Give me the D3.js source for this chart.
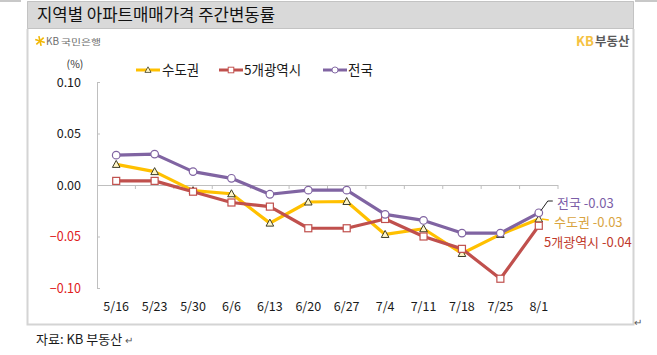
<!DOCTYPE html>
<html><head><meta charset="utf-8">
<script src="https://cdn.jsdelivr.net/npm/d3@7"></script>
<style>
html,body{margin:0;padding:0;background:#fff;}
text{font-family:"Noto Sans CJK KR","Noto Sans",sans-serif;}
</style></head>
<body>
<svg id="c" width="657" height="355"></svg>
<script>
const categories = ["5/16","5/23","5/30","6/6","6/13","6/20","6/27","7/4","7/11","7/18","7/25","8/1"];
const seoulMetro = [0.020,0.013,-0.0055,-0.0085,-0.037,-0.0165,-0.016,-0.048,-0.0425,-0.0665,-0.048,-0.033];
const fiveCities = [0.004,0.004,-0.0065,-0.017,-0.021,-0.042,-0.042,-0.033,-0.050,-0.062,-0.091,-0.0396];
const nationwide = [0.029,0.030,0.013,0.0065,-0.009,-0.005,-0.005,-0.0285,-0.0344,-0.0467,-0.0467,-0.027];
const yTicks = [0.10,0.05,0.00,-0.05,-0.10];
const seriesNames = ["수도권","5개광역시","전국"];
const endLabels = ["전국 -0.03","수도권 -0.03","5개광역시 -0.04"];

const svg = d3.select("#c");

// page lines
svg.append("line").attr("x1",0).attr("x2",21).attr("y1",1).attr("y2",1).attr("stroke","#c8c8c8").attr("stroke-width",2);
svg.append("line").attr("x1",635).attr("x2",657).attr("y1",1).attr("y2",1).attr("stroke","#c8c8c8").attr("stroke-width",2);

// title bar
svg.append("rect").attr("x",27.5).attr("y",1.5).attr("width",606).attr("height",27)
  .attr("fill","#d9d9d9").attr("stroke","#9a9a9a").attr("stroke-dasharray","1,1");
svg.append("text").attr("x",37).attr("y",21).attr("font-size",16.5).attr("fill","#111")
  .attr("textLength",238).attr("lengthAdjust","spacingAndGlyphs")
  .text("지역별 아파트매매가격 주간변동률");

// chart frame
svg.append("path").attr("d","M27.5,29 V324.5 H633.5 V29").attr("fill","none").attr("stroke","#d4d4d4").attr("stroke-width",2);

// KB logos
const star = svg.append("g").attr("transform","translate(40,41)");
for(let i=0;i<6;i++){
  star.append("line").attr("x1",0).attr("y1",0).attr("x2",5*Math.cos(i*Math.PI/3+0.3)).attr("y2",5*Math.sin(i*Math.PI/3+0.3))
    .attr("stroke","#f2b705").attr("stroke-width",1.6);
}
svg.append("text").attr("x",46).attr("y",45).attr("font-size",10).attr("fill","#6d6d6d").text("KB");
svg.append("text").attr("x",61).attr("y",45).attr("font-size",8.5).attr("fill","#6d6d6d").attr("textLength",40).attr("lengthAdjust","spacingAndGlyphs").text("국민은행");
svg.append("text").attr("x",576).attr("y",46).attr("font-size",13).attr("font-weight","bold").attr("fill","#f5c242").text("KB");
svg.append("text").attr("x",595).attr("y",46).attr("font-size",12.5).attr("font-weight","bold").attr("fill","#5a5a5a").text("부동산");

// scales
const x = d3.scaleBand().domain(categories).range([97,558]).padding(0);
const y = d3.scaleLinear().domain([-0.10,0.10]).range([288,82]);
const cx = d => x(d)+x.bandwidth()/2;

// y axis
const yAxis = d3.axisRight(y).tickValues(yTicks).tickSize(3).tickFormat("");
const ya = svg.append("g").attr("transform","translate(97,0)").call(yAxis);
ya.select(".domain").attr("stroke","#bfbfbf").attr("d","M3,82.5H0.5V288.5H3");
ya.selectAll(".tick line").attr("stroke","#bfbfbf");
svg.selectAll(".ylab").data(yTicks).enter().append("text")
  .attr("x",81).attr("y",d=>y(d)+4.5).attr("text-anchor","end").attr("font-size",12.5)
  .attr("fill",d=>d<0?"#e0201b":"#1a1a1a").text(d=>d3.format(".2f")(d));
svg.append("text").attr("x",75).attr("y",68).attr("text-anchor","middle").attr("font-size",10.5).attr("fill","#333").text("(%)");

// x axis at zero
const xAxis = d3.axisBottom(x).tickSize(0).tickFormat("");
const xa = svg.append("g").attr("transform",`translate(0,${y(0)})`).call(xAxis);
xa.select(".domain").attr("stroke","#bfbfbf").attr("d","M97,0.5H558");
xa.selectAll(".bt").data(categories.slice(1).concat(["end"])).enter().append("line").attr("class","bt")
  .attr("x1",(d,i)=>97+x.bandwidth()*(i+1)).attr("x2",(d,i)=>97+x.bandwidth()*(i+1))
  .attr("y1",0).attr("y2",4).attr("stroke","#bfbfbf");
svg.selectAll(".xlab").data(categories).enter().append("text")
  .attr("x",d=>cx(d)).attr("y",311).attr("text-anchor","middle").attr("font-size",12.5).attr("fill","#1a1a1a").text(d=>d);

// series
const series = [
  {name:seriesNames[0], values:seoulMetro, color:"#ffc000", marker:"tri"},
  {name:seriesNames[1], values:fiveCities, color:"#c0504d", marker:"sq"},
  {name:seriesNames[2], values:nationwide, color:"#8064a2", marker:"circ"}
];
const line = d3.line().x((d,i)=>cx(categories[i])).y(d=>y(d));

function drawMarker(g, type, px, py, color){
  if(type==="tri"){
    g.append("path").attr("d",`M${px},${py-4}L${px+3.8},${py+3}L${px-3.8},${py+3}Z`)
      .attr("fill","#fff6c8").attr("stroke","#3c3c28").attr("stroke-width",1);
  } else if(type==="sq"){
    g.append("rect").attr("x",px-3.5).attr("y",py-3.5).attr("width",7).attr("height",7)
      .attr("fill","#fff").attr("stroke",color).attr("stroke-width",1.2);
  } else {
    g.append("circle").attr("cx",px).attr("cy",py).attr("r",3.8)
      .attr("fill","#fff").attr("stroke",color).attr("stroke-width",1.2);
  }
}

series.forEach(s=>{
  svg.append("path").datum(s.values).attr("d",line).attr("fill","none")
    .attr("stroke",s.color).attr("stroke-width",3.2).attr("stroke-linejoin","round");
});
series.forEach(s=>{
  const g = svg.append("g");
  s.values.forEach((v,i)=>drawMarker(g,s.marker,cx(categories[i]),y(v),s.color));
});

// legend
const legX = [136,219,323];
const legTextX = [162,244,348];
series.forEach((s,i)=>{
  const g = svg.append("g");
  g.append("line").attr("x1",legX[i]).attr("x2",legX[i]+24).attr("y1",70).attr("y2",70).attr("stroke",s.color).attr("stroke-width",3);
  const mg = g.append("g").attr("transform",`translate(${legX[i]+12},70) scale(0.8) translate(${-(legX[i]+12)},-70)`);
  drawMarker(mg,s.marker,legX[i]+12,70,s.color);
  g.append("text").attr("x",legTextX[i]).attr("y",75).attr("font-size",13.5).attr("fill","#1a1a1a").text(s.name);
});

// end annotations
const last = categories[categories.length-1];
const lx = cx(last);
svg.append("path").attr("d",`M${lx+2},${y(nationwide[11])-2}L${lx+9},201L${lx+14},201`).attr("fill","none").attr("stroke","#222").attr("stroke-width",1);
svg.append("line").attr("x1",lx+3).attr("x2",lx+10).attr("y1",y(seoulMetro[11])).attr("y2",y(seoulMetro[11])+1).attr("stroke","#ffc000").attr("stroke-width",1.5);
svg.append("text").attr("x",557).attr("y",208).attr("font-size",13).attr("fill","#7b5ea7").text(endLabels[0]);
svg.append("text").attr("x",554).attr("y",227).attr("font-size",13).attr("fill","#d9a441").text(endLabels[1]);
svg.append("text").attr("x",544).attr("y",247).attr("font-size",13).attr("fill","#c0392b").text(endLabels[2]);

// paragraph marks & source
svg.append("text").attr("x",634).attr("y",326).attr("font-size",10).attr("fill","#555").text("↵");
svg.append("text").attr("x",36).attr("y",344).attr("font-size",13).attr("fill","#1a1a1a").text("자료: KB 부동산");
svg.append("text").attr("x",125).attr("y",344).attr("font-size",10).attr("fill","#555").text("↵");
</script>
</body></html>
